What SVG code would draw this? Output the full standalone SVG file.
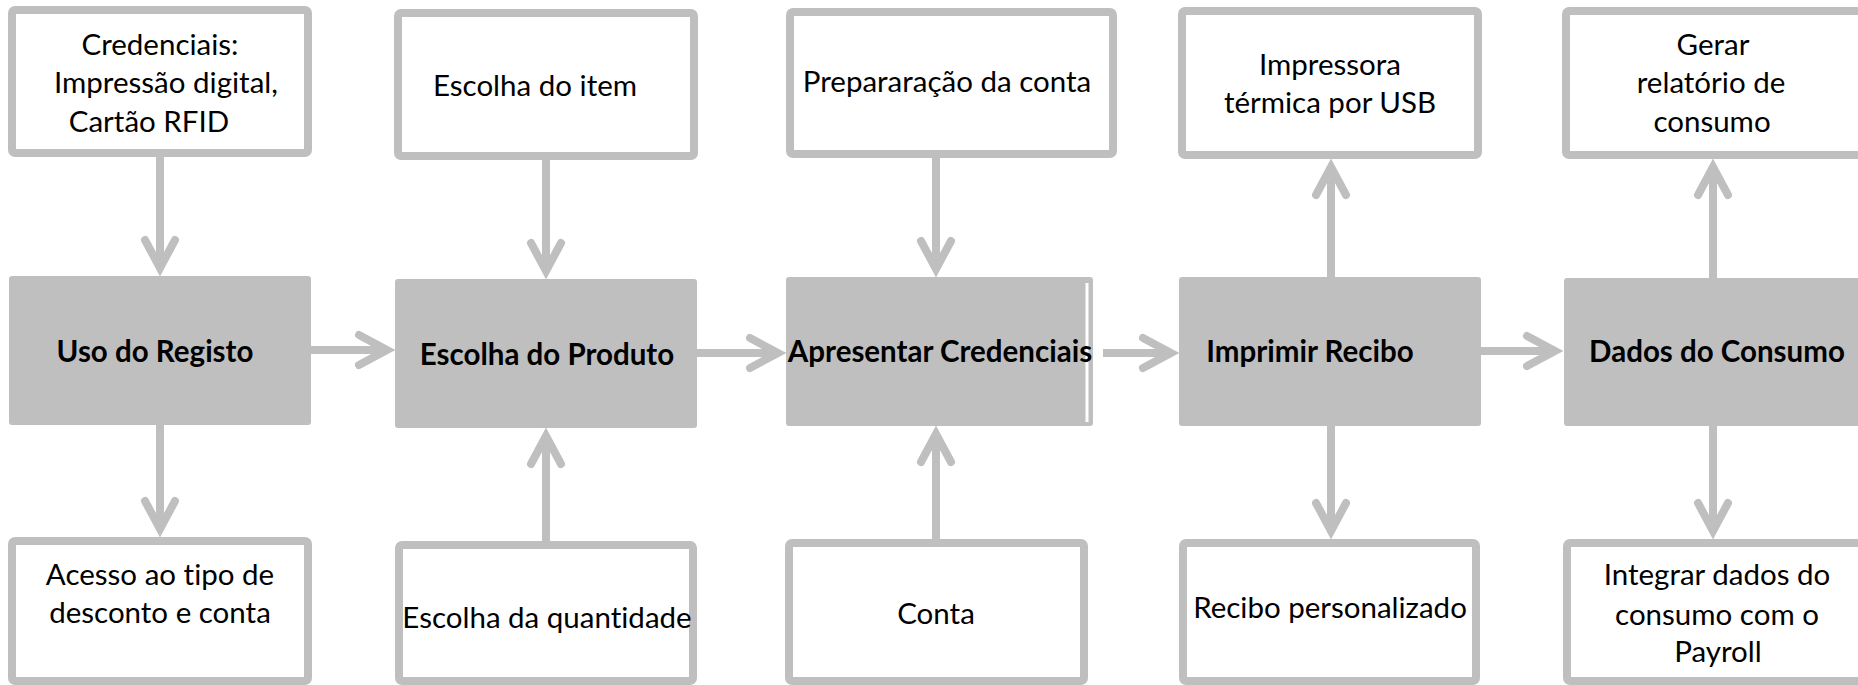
<svg xmlns="http://www.w3.org/2000/svg" width="1858" height="685" viewBox="0 0 1858 685">
<style>
.sub{fill:#FFFFFF;stroke:#BFBFBF;stroke-width:8;}
.main{fill:#BFBFBF;}
.t{font-family:Lato,"Liberation Sans",sans-serif;font-size:29.5px;fill:#000;text-anchor:middle;font-variant-ligatures:none;}
.b{font-family:Lato,"Liberation Sans",sans-serif;font-size:29.5px;font-weight:bold;fill:#000;text-anchor:middle;font-variant-ligatures:none;}
.c{fill:none;stroke:#BFBFBF;stroke-width:8;}
</style>
<defs>
<marker id="chev" markerUnits="userSpaceOnUse" viewBox="-40 -22 48 44" markerWidth="48" markerHeight="44" refX="0" refY="0" orient="auto" overflow="visible">
<path d="M-28,-15 L0,0 L-28,15" fill="none" stroke="#BFBFBF" stroke-width="8" stroke-linecap="round" stroke-linejoin="miter"/>
</marker>
</defs>
<rect width="1858" height="685" fill="#FFFFFF"/>

<g id="connectors">
<line class="c" x1="160" y1="157" x2="160" y2="268" marker-end="url(#chev)"/>
<line class="c" x1="546" y1="160" x2="546" y2="271" marker-end="url(#chev)"/>
<line class="c" x1="936" y1="158" x2="936" y2="269" marker-end="url(#chev)"/>
<line class="c" x1="1331" y1="277" x2="1331" y2="167" marker-end="url(#chev)"/>
<line class="c" x1="1713" y1="278" x2="1713" y2="167" marker-end="url(#chev)"/>
<line class="c" x1="160" y1="425" x2="160" y2="529" marker-end="url(#chev)"/>
<line class="c" x1="546" y1="541" x2="546" y2="436" marker-end="url(#chev)"/>
<line class="c" x1="936" y1="539" x2="936" y2="434" marker-end="url(#chev)"/>
<line class="c" x1="1331" y1="426" x2="1331" y2="531" marker-end="url(#chev)"/>
<line class="c" x1="1713" y1="426" x2="1713" y2="531" marker-end="url(#chev)"/>
<line class="c" x1="311" y1="350" x2="387" y2="350" marker-end="url(#chev)"/>
<line class="c" x1="697" y1="353" x2="778" y2="353" marker-end="url(#chev)"/>
<line class="c" x1="1103" y1="353" x2="1171" y2="353" marker-end="url(#chev)"/>
<line class="c" x1="1481" y1="351" x2="1555" y2="351" marker-end="url(#chev)"/>
</g>

<g id="top1">
<rect class="sub" x="12" y="10" width="296" height="143" rx="3"/>
<text class="t" x="160" y="55">Credenciais:</text>
<text class="t" x="166" y="93">Impressão digital,</text>
<text class="t" x="149" y="132">Cartão RFID</text>
</g>
<g id="top2">
<rect class="sub" x="398" y="13" width="296" height="143" rx="3"/>
<text class="t" x="535" y="96">Escolha do item</text>
</g>
<g id="top3">
<rect class="sub" x="790" y="12" width="323" height="142" rx="3"/>
<text class="t" x="947" y="92">Prepararação da conta</text>
</g>
<g id="top4">
<rect class="sub" x="1182" y="11" width="296" height="144" rx="3"/>
<text class="t" x="1330" y="75">Impressora</text>
<text class="t" x="1330" y="113">térmica por USB</text>
</g>
<g id="top5">
<rect class="sub" x="1566" y="11" width="300" height="144" rx="3"/>
<text class="t" x="1713" y="55">Gerar</text>
<text class="t" x="1711" y="93">relatório de</text>
<text class="t" x="1712" y="132">consumo</text>
</g>

<g id="main1">
<rect class="main" x="9" y="276" width="302" height="149" rx="3"/>
<text class="b" x="155" y="362">Uso do Registo</text>
</g>
<g id="main2">
<rect class="main" x="395" y="279" width="302" height="149" rx="3"/>
<text class="b" x="547" y="365">Escolha do Produto</text>
</g>
<g id="main3">
<rect class="main" x="786" y="277" width="307" height="149" rx="3"/>
<rect x="1085.5" y="283" width="3" height="139" fill="#FFFFFF"/>
<text class="b" x="940" y="362">Apresentar Credenciais</text>
</g>
<g id="main4">
<rect class="main" x="1179" y="277" width="302" height="149" rx="3"/>
<text class="b" x="1310" y="362">Imprimir Recibo</text>
</g>
<g id="main5">
<rect class="main" x="1564" y="278" width="310" height="148" rx="3"/>
<text class="b" x="1717" y="362">Dados do Consumo</text>
</g>

<g id="bot1">
<rect class="sub" x="12" y="541" width="296" height="140" rx="3"/>
<text class="t" x="160" y="585">Acesso ao tipo de</text>
<text class="t" x="160" y="623">desconto e conta</text>
</g>
<g id="bot2">
<rect class="sub" x="399" y="545" width="294" height="136" rx="3"/>
<text class="t" x="547" y="628">Escolha da quantidade</text>
</g>
<g id="bot3">
<rect class="sub" x="789" y="543" width="295" height="138" rx="3"/>
<text class="t" x="936" y="624">Conta</text>
</g>
<g id="bot4">
<rect class="sub" x="1183" y="543" width="293" height="138" rx="3"/>
<text class="t" x="1330" y="618">Recibo personalizado</text>
</g>
<g id="bot5">
<rect class="sub" x="1567" y="543" width="300" height="138" rx="3"/>
<text class="t" x="1717" y="585">Integrar dados do</text>
<text class="t" x="1717" y="625">consumo com o</text>
<text class="t" x="1718" y="662">Payroll</text>
</g>
</svg>
